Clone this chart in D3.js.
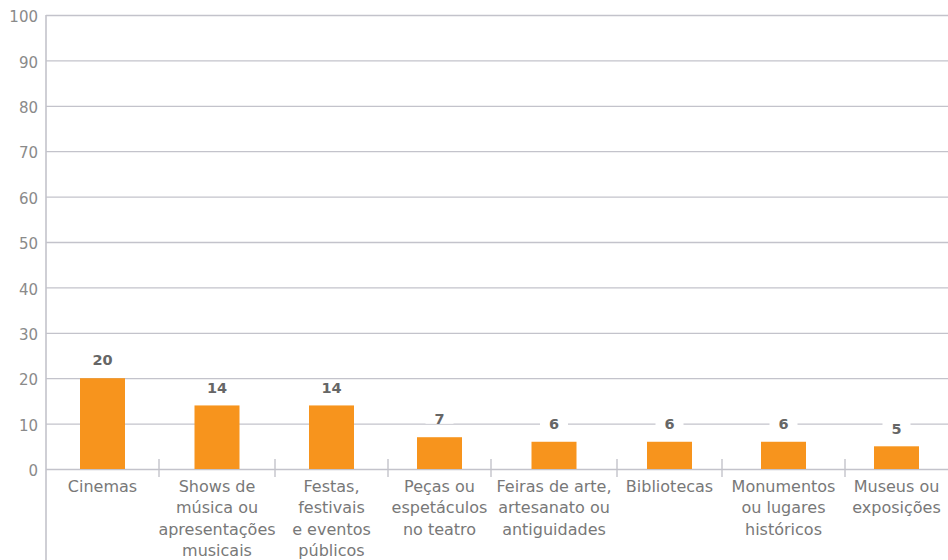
<!DOCTYPE html>
<html>
<head>
<meta charset="utf-8">
<script src="https://cdn.jsdelivr.net/npm/d3@7"></script>
<style>
  html, body { margin: 0; padding: 0; background: #fff; }
  svg { display: block; }
</style>
</head>
<body>
<svg id="chart" width="948" height="560"></svg>
<script>
// Categories (line breaks mark where each label wraps)
const categories = [
  "Cinemas",
  "Shows de\nmúsica ou\napresentações\nmusicais",
  "Festas,\nfestivais\ne eventos\npúblicos",
  "Peças ou\nespetáculos\nno teatro",
  "Feiras de arte,\nartesanato ou\nantiguidades",
  "Bibliotecas",
  "Monumentos\nou lugares\nhistóricos",
  "Museus ou\nexposições"
];
const values = [20, 14, 14, 7, 6, 6, 6, 5];
const yTicks = [0, 10, 20, 30, 40, 50, 60, 70, 80, 90, 100];

// Layout
const W = 948, H = 560;
const plotLeft = 46, plotRight = 948, plotTop = 15, plotBottom = 469;
const slotWidths = [113, 116, 113, 103, 126, 105, 123, 103]; // relative width of each category slot
const barWidth = 45;
const gridColor = "#c3c3cb";
const barColor = "#f7941d";
const textColor = "#787878";

const svg = d3.select("#chart");

const y = d3.scaleLinear().domain([0, 100]).range([plotBottom, plotTop]);

// Category slots of unequal width, placed along a linear scale of cumulative widths
const cum = [0, ...d3.cumsum(slotWidths)];
const slotScale = d3.scaleLinear().domain([0, d3.sum(slotWidths)]).range([plotLeft, plotRight]);
const slotStart = i => slotScale(cum[i]);
const slotEnd = i => slotScale(cum[i + 1]);
const slotCenter = i => (slotStart(i) + slotEnd(i)) / 2;

// Gridlines + y labels
const yAxis = d3.axisLeft(y)
  .tickValues(yTicks)
  .tickSize(-(plotRight - plotLeft))
  .tickPadding(8)
  .tickFormat(d3.format("d"));

const gy = svg.append("g")
  .attr("transform", `translate(${plotLeft},0)`)
  .call(yAxis);
gy.select(".domain").remove();
gy.selectAll(".tick line").attr("stroke", gridColor).attr("stroke-width", 1.3);
gy.selectAll(".tick text")
  .attr("fill", "#8a8a8a")
  .attr("font-family", "DejaVu Sans, sans-serif")
  .attr("font-size", 15)
  .attr("dy", "0.45em");

// Left axis line, running down past the category labels
svg.append("line")
  .attr("x1", plotLeft).attr("x2", plotLeft)
  .attr("y1", plotTop).attr("y2", H)
  .attr("stroke", gridColor).attr("stroke-width", 1.6);

// Slot separators on the baseline
svg.append("g").selectAll("line")
  .data(d3.range(1, categories.length))
  .join("line")
  .attr("x1", i => slotStart(i)).attr("x2", i => slotStart(i))
  .attr("y1", plotBottom - 10).attr("y2", plotBottom + 8)
  .attr("stroke", gridColor).attr("stroke-width", 1.4);

// Bars
svg.append("g").selectAll("rect")
  .data(values)
  .join("rect")
  .attr("x", (d, i) => slotCenter(i) - barWidth / 2)
  .attr("width", barWidth)
  .attr("y", d => y(d))
  .attr("height", d => y(0) - y(d))
  .attr("fill", barColor);

// Value labels on a white backing
const vl = svg.append("g").selectAll("g")
  .data(values)
  .join("g")
  .attr("transform", (d, i) => `translate(${slotCenter(i)},${y(d) - 18})`);
vl.append("rect")
  .attr("x", -14).attr("width", 28)
  .attr("y", -7).attr("height", 11.5)
  .attr("fill", "#fff");
vl.append("text")
  .attr("text-anchor", "middle")
  .attr("dy", "0.36em")
  .attr("font-family", "DejaVu Sans, sans-serif")
  .attr("font-weight", "bold")
  .attr("font-size", 14.5)
  .attr("fill", "#666")
  .text(d => d);

// Category labels
const cl = svg.append("g").selectAll("text")
  .data(categories)
  .join("text")
  .attr("x", (d, i) => slotCenter(i))
  .attr("y", 492)
  .attr("text-anchor", "middle")
  .attr("font-family", "DejaVu Sans, sans-serif")
  .attr("font-size", 16)
  .attr("fill", textColor);
cl.each(function(d, i) {
  const t = d3.select(this);
  d.split("\n").forEach((line, k) => {
    t.append("tspan")
      .attr("x", slotCenter(i))
      .attr("y", 492 + k * 21.3)
      .text(line);
  });
});
</script>
</body>
</html>
